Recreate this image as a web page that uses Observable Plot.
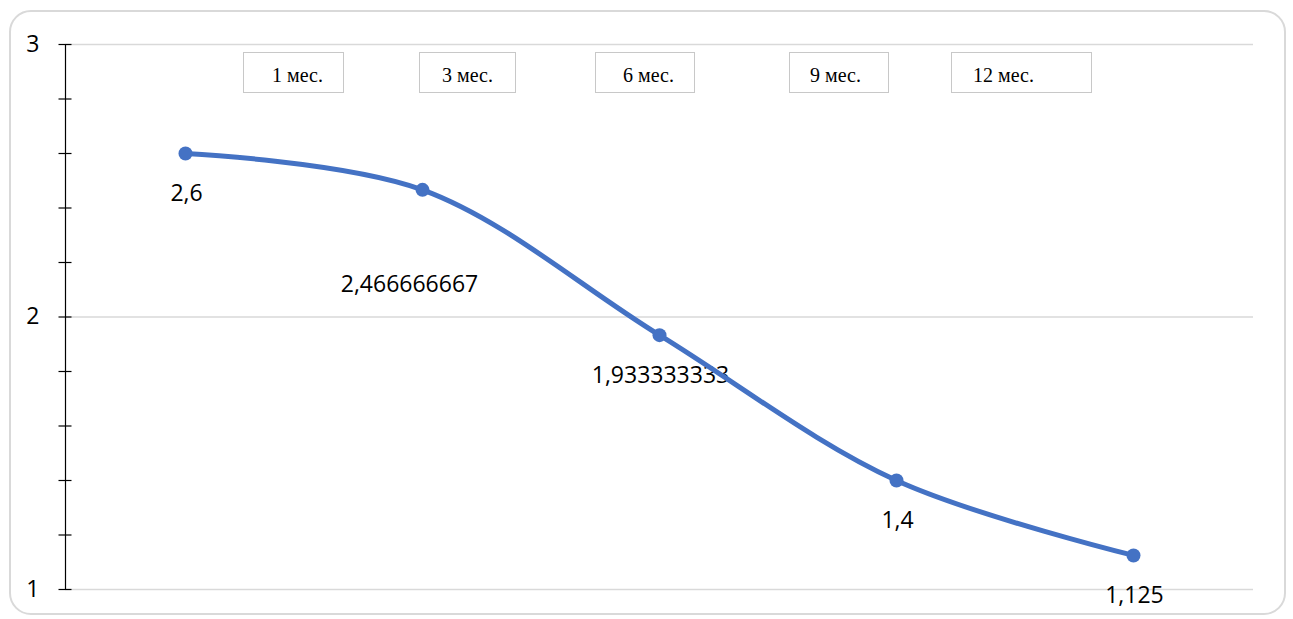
<!DOCTYPE html>
<html>
<head>
<meta charset="utf-8">
<script src="https://cdn.jsdelivr.net/npm/d3@7"></script>
<script src="https://cdn.jsdelivr.net/npm/@observablehq/plot@0.6"></script>
<style>
  html, body { margin: 0; padding: 0; background: #fff; }
  #wrap { position: relative; width: 1293px; height: 619px; overflow: hidden; }
  #frame { position: absolute; left: 9px; top: 10px; width: 1277px; height: 605px;
           border: 2px solid #d9d9d9; border-radius: 22px; box-sizing: border-box; pointer-events: none; }
  .tag { position: absolute; top: 52px; height: 41px; border: 1px solid #c8c8c8; box-sizing: border-box;
         background: #fff; font-family: "Liberation Serif", "Times New Roman", serif; font-size: 20px;
         line-height: 45px; color: #000; white-space: nowrap; overflow: hidden; }
</style>
</head>
<body>
<div id="wrap"><div id="frame"></div></div>
<script>
// Data
const categories = ["1", "2", "3", "4", "5"];
const values = [2.6, 2.466666667, 1.933333333, 1.4, 1.125];
const valueLabels = ["2,6", "2,466666667", "1,933333333", "1,4", "1,125"];
const yMajorTicks = [1, 2, 3];
const yMinorTicks = [1, 1.2, 1.4, 1.6, 1.8, 2, 2.2, 2.4, 2.6, 2.8, 3];
const periodLabels = ["1 мес.", "3 мес.", "6 мес.", "9 мес.", "12 мес."];

const data = categories.map((c, i) => ({cat: c, value: values[i], label: valueLabels[i], i}));

const blue = "#4472C4";
const sans = "'Open Sans', 'Noto Sans', sans-serif";

const chart = Plot.plot({
  width: 1293,
  height: 619,
  marginLeft: 65,
  marginRight: 40,
  marginTop: 44,
  marginBottom: 30,
  style: {background: "transparent", fontFamily: sans, color: "#000"},
  x: {type: "point", domain: categories, padding: 0.5, axis: null},
  y: {domain: [1, 3], axis: null},
  marks: [
    Plot.ruleY(yMajorTicks, {y: d => d, stroke: "#d9d9d9", strokeWidth: 1.5}),
    Plot.frame({anchor: "left", stroke: "#000", strokeWidth: 1.2}),
    Plot.axisY({ticks: yMinorTicks, tickSize: 13, dx: 6.5, tickFormat: () => "", label: null, stroke: "#000", strokeWidth: 1.2}),
    Plot.axisY({ticks: yMajorTicks, tickSize: 0, tickPadding: 26, tickFormat: d => String(d), label: null,
                fontSize: 23, fontFamily: sans, fill: "#000"}),
    Plot.text(data.filter(d => d.i !== 1), {x: "cat", y: "value", text: "label", dy: 40, dx: 1,
                fontSize: 23, fontFamily: sans, fill: "#000", lineAnchor: "middle"}),
    Plot.text(data.filter(d => d.i === 1), {x: "cat", y: "value", text: "label", dy: 95, dx: -13,
                fontSize: 23, fontFamily: sans, fill: "#000", lineAnchor: "middle"}),
    Plot.line(data, {x: "cat", y: "value", stroke: blue, strokeWidth: 5, curve: "catmull-rom"}),
    Plot.dot(data, {x: "cat", y: "value", r: 7, fill: blue, stroke: "none"})
  ]
});
chart.style.position = "absolute";
chart.style.left = "0px";
chart.style.top = "0px";
const wrap = document.getElementById("wrap");
wrap.insertBefore(chart, wrap.firstChild);

// Period annotation boxes (text boxes placed over the chart)
const tagBoxes = [[243, 101, 28], [419, 97, 22], [595, 100, 27], [789, 100, 20], [951, 141, 21]];
periodLabels.forEach((t, i) => {
  const [left, w, pad] = tagBoxes[i];
  const div = document.createElement("div");
  div.className = "tag";
  div.style.left = left + "px";
  div.style.width = w + "px";
  div.style.paddingLeft = pad + "px";
  div.textContent = t;
  wrap.appendChild(div);
});
</script>
</body>
</html>
